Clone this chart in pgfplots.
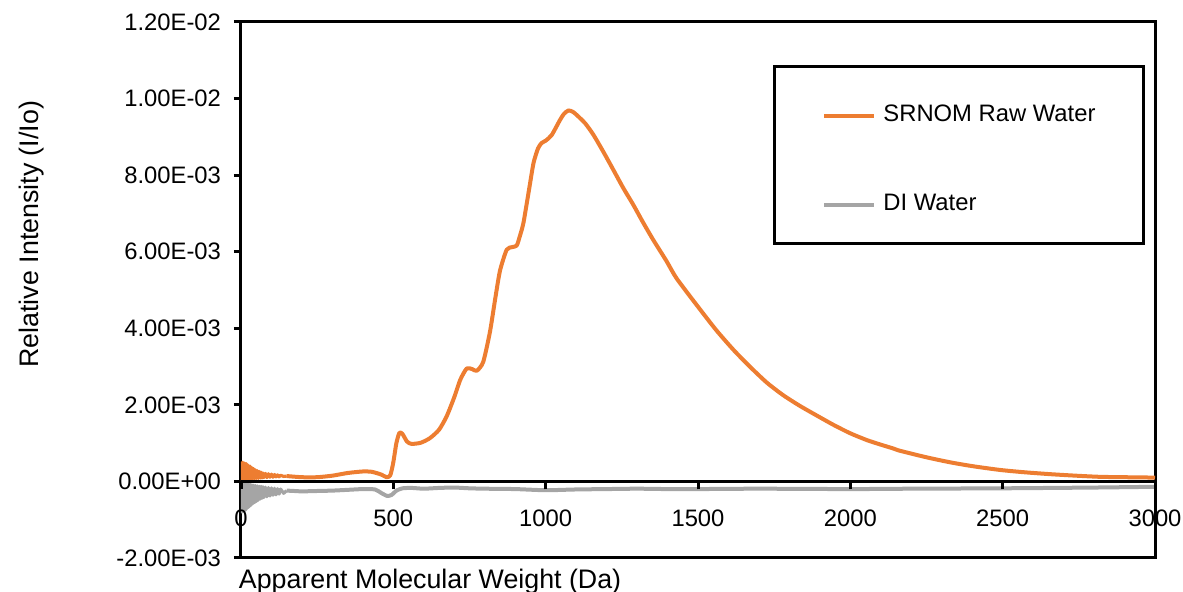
\documentclass[border=0pt]{standalone}
\usepackage{pgfplots}
\pgfplotsset{compat=1.18}
\usepackage{fontspec}
\setmainfont{Liberation Sans}
\newcommand\myfont{\fontsize{11.9pt}{14pt}\selectfont}
\newcommand\labfont{\fontsize{13.4pt}{16pt}\selectfont}
\definecolor{srnom}{HTML}{ED7D31}
\definecolor{diw}{HTML}{A5A5A5}

\pgfplotstableread{
x y
0 0.00052
3 0.00003
6 0.00050
9 0.00004
12 0.00048
15 0.00005
18 0.00046
21 0.00005
24 0.00042
27 0.00006
30 0.00040
33 0.00006
36 0.00036
39 0.00007
42 0.00033
45 0.00007
48 0.00030
51 0.00008
54 0.00028
57 0.00008
60 0.00026
63 0.00009
66 0.00024
69 0.00009
72 0.00022
75 0.00010
80 0.00021
85 0.00010
90 0.00020
95 0.00011
100 0.00019
105 0.00011
110 0.00018
115 0.00012
120 0.00017
125 0.00012
130 0.00016
140 0.00013
150 0.00014
}\srnomnoise

\pgfplotstableread{
x y
150 0.00014
200 0.00011
250 0.00011
300 0.00015
350 0.00022
400 0.00026
430 0.00025
460 0.00018
478 0.00011
490 0.00016
500 0.00050
510 0.00100
520 0.00127
530 0.00124
545 0.00104
560 0.00098
590 0.00101
620 0.00113
650 0.00135
675 0.00170
700 0.00220
720 0.00266
741 0.00295
760 0.00293
774 0.00289
795 0.00312
817 0.00390
834 0.00475
850 0.00550
872 0.00605
890 0.00612
905 0.00616
915 0.00640
927 0.00675
945 0.00760
960 0.00831
975 0.00870
987 0.00884
1000 0.00890
1020 0.00905
1047 0.00944
1060 0.00960
1075 0.00969
1090 0.00965
1102 0.00957
1130 0.00935
1157 0.00905
1190 0.00860
1222 0.00814
1255 0.00766
1288 0.00722
1320 0.00676
1353 0.00631
1397 0.00575
1430 0.00530
1507 0.00449
1560 0.00395
1616 0.00344
1670 0.00300
1726 0.00258
1780 0.00225
1835 0.00197
1890 0.00172
1944 0.00148
1999 0.00126
2054 0.00108
2100 0.00096
2141 0.00086
2163 0.00080
2250 0.00063
2327 0.00050
2400 0.00040
2491 0.00030
2570 0.00024
2655 0.00019
2740 0.00015
2819 0.00012
2900 0.00011
3000 0.00010
}\srnom

\pgfplotstableread{
x y
0 0.00000
3 -0.00080
6 0.00000
9 -0.00078
12 -0.00002
15 -0.00075
18 -0.00004
21 -0.00070
24 -0.00006
27 -0.00066
30 -0.00008
33 -0.00062
36 -0.00009
39 -0.00058
42 -0.00010
45 -0.00055
48 -0.00011
51 -0.00052
54 -0.00012
57 -0.00049
60 -0.00013
63 -0.00046
66 -0.00013
69 -0.00044
72 -0.00014
75 -0.00042
80 -0.00015
85 -0.00040
90 -0.00016
95 -0.00038
100 -0.00017
105 -0.00036
110 -0.00018
115 -0.00035
120 -0.00019
125 -0.00033
130 -0.00020
140 -0.00031
150 -0.00024
}\diwnoise

\pgfplotstableread{
x y
150 -0.00024
175 -0.00025
200 -0.00026
250 -0.00025
300 -0.00024
350 -0.00022
400 -0.00020
440 -0.00021
460 -0.00030
480 -0.00038
495 -0.00035
510 -0.00024
530 -0.00018
560 -0.00017
600 -0.00019
650 -0.00017
700 -0.00016
750 -0.00018
800 -0.00019
900 -0.00020
1000 -0.00023
1100 -0.00021
1200 -0.00020
1300 -0.00019
1400 -0.00020
1500 -0.00020
1700 -0.00019
2000 -0.00020
2200 -0.00019
2500 -0.00018
2800 -0.00016
3000 -0.00014
}\diwater

\begin{document}
\begin{tikzpicture}
\path[use as bounding box] (-120.5pt,-17pt) rectangle (471pt,279pt);
\begin{axis}[
  scale only axis, width=457pt, height=268pt,
  xmin=0, xmax=3000, ymin=-0.002, ymax=0.012,
  axis line style={line width=1.5pt},
  xtick=\empty,
  ytick={-0.002,0,0.002,0.004,0.006,0.008,0.010,0.012},
  yticklabels={-2.00E-03,0.00E+00,2.00E-03,4.00E-03,6.00E-03,8.00E-03,1.00E-02,1.20E-02},
  scaled y ticks=false,
  ytick pos=left, tick align=outside,
  major tick length=3.5pt,
  every tick/.style={black, line width=1.5pt},
  tick label style={font=\myfont},
  yticklabel style={xshift=-3pt},
  label style={font=\labfont},
  ylabel={Relative Intensity (I/Io)},
  ylabel style={at={(axis description cs:-0.229,0.604)}, anchor=center},
  xlabel={Apparent Molecular Weight (Da)},
  xlabel style={at={(axis description cs:-0.01,-0.056)}, anchor=base west},
  legend style={at={(axis description cs:0.582,0.9198)}, anchor=north west,
    draw=black, line width=1.5pt, font=\myfont,
    inner xsep=24pt, inner ysep=16pt, row sep=32.5pt, column sep=3.5pt,
    nodes={inner sep=0pt, text height=11.5pt, text depth=0.5pt, anchor=base west}},
  legend cell align=left,
  legend image code/.code={\draw[#1, line width=2pt] (0pt,2.5pt) -- (25pt,2.5pt);},
]
\addplot[diw, line width=1.6pt, line join=round, forget plot] table[x=x,y=y] {\diwnoise};
\addplot[diw, line width=2pt, line join=round, smooth, tension=0.4, forget plot] table[x=x,y=y] {\diwater};
\addplot[srnom, line width=1.6pt, line join=round, forget plot] table[x=x,y=y] {\srnomnoise};
\addplot[srnom, line width=2pt, line join=round, smooth, tension=0.4] table[x=x,y=y] {\srnom};
\addlegendentry{SRNOM Raw Water}
\addlegendimage{diw, line width=2pt}
\addlegendentry{DI Water}
\end{axis}
\begin{axis}[
  scale only axis, width=457pt, height=268pt,
  xmin=0, xmax=3000, ymin=-0.002, ymax=0.012,
  axis x line=middle, axis y line=none,
  axis line style={line width=1.5pt, -},
  xtick={0,500,1000,1500,2000,2500,3000},
  xticklabels={0,500,1000,1500,2000,2500,3000},
  hide obscured x ticks=false,
  tick align=outside, major tick length=4pt,
  every tick/.style={black, line width=1.5pt},
  tick label style={font=\myfont},
  xticklabel style={yshift=-6.5pt},
  ytick=\empty,
]
\end{axis}
\end{tikzpicture}
\end{document}
